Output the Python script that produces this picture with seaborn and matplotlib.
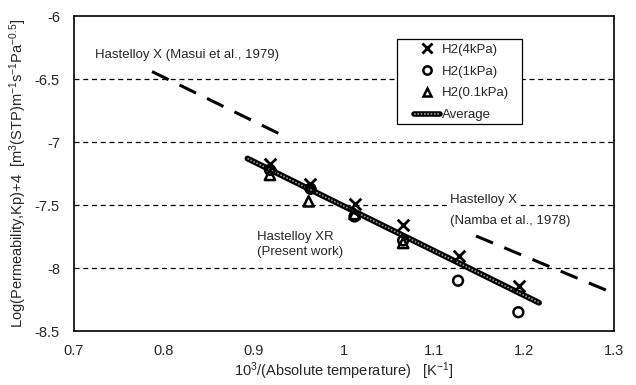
import matplotlib
matplotlib.use("Agg")
import matplotlib.pyplot as plt
import seaborn as sns
from matplotlib.lines import Line2D
from matplotlib.patches import Rectangle
from matplotlib.legend_handler import HandlerTuple

# Data
x_4kpa = [0.918, 0.963, 1.012, 1.066, 1.128, 1.195]
y_4kpa = [-7.17, -7.33, -7.49, -7.66, -7.905, -8.145]
x_1kpa = [0.918, 0.963, 1.012, 1.066, 1.127, 1.194]
y_1kpa = [-7.22, -7.37, -7.59, -7.78, -8.10, -8.35]
x_01kpa = [0.918, 0.961, 1.012, 1.066]
y_01kpa = [-7.26, -7.47, -7.57, -7.80]
avg_x = [0.893, 1.217]
avg_y = [-7.13, -8.275]
masui_x = [0.787, 0.936]
masui_y = [-6.44, -6.96]
namba_x = [1.147, 1.300]
namba_y = [-7.745, -8.20]
legend_labels = ["H2(4kPa)", "H2(1kPa)", "H2(0.1kPa)", "Average"]

sns.set_style("white")
plt.rcParams["font.family"] = ["Liberation Sans", "DejaVu Sans"]
plt.rcParams["mathtext.fontset"] = "custom"
plt.rcParams["mathtext.rm"] = "Liberation Sans"
plt.rcParams["mathtext.it"] = "Liberation Sans"

fig = plt.figure(figsize=(6.36, 3.85), dpi=100)
ax = fig.add_axes([0.116, 0.140, 0.849, 0.818])

for yv in [-6.5, -7, -7.5, -8]:
    ax.axhline(yv, color="black", lw=0.9, ls=(0, (4, 3)), zorder=1)

# literature lines
sns.lineplot(x=masui_x, y=masui_y, ax=ax, color="black", lw=2.2,
             linestyle=(0, (6, 4)), zorder=2)
sns.lineplot(x=namba_x, y=namba_y, ax=ax, color="black", lw=2.2,
             linestyle=(0, (6, 4)), zorder=2)

# average line: black with a grey core
sns.lineplot(x=avg_x, y=avg_y, ax=ax, color="black", lw=4.2, zorder=3)
sns.lineplot(x=avg_x, y=avg_y, ax=ax, color="#9a9a9a", lw=1.2,
             linestyle=(0, (1, 1)), zorder=4)

sns.scatterplot(x=x_4kpa, y=y_4kpa, ax=ax, marker="x", s=70, color="black",
                linewidth=2, zorder=5)
sns.scatterplot(x=x_1kpa, y=y_1kpa, ax=ax, marker="o", s=50,
                facecolors="none", edgecolor="black", linewidth=1.8, zorder=5)
sns.scatterplot(x=x_01kpa, y=y_01kpa, ax=ax, marker="^", s=55,
                facecolors="none", edgecolor="black", linewidth=1.8, zorder=5)

ax.set_xlim(0.7, 1.3)
ax.set_ylim(-8.5, -6)
ax.set_xticks([0.7, 0.8, 0.9, 1.0, 1.1, 1.2, 1.3])
ax.set_xticklabels(["0.7", "0.8", "0.9", "1", "1.1", "1.2", "1.3"])
ax.set_yticks([-8.5, -8, -7.5, -7, -6.5, -6])
ax.set_yticklabels(["-8.5", "-8", "-7.5", "-7", "-6.5", "-6"])
ax.tick_params(axis="x", direction="in", length=4, width=1, labelsize=10.5, pad=9)
ax.tick_params(axis="y", direction="in", length=3, width=1, labelsize=10.5, pad=10)
for sp in ax.spines.values():
    sp.set_color("black")
    sp.set_linewidth(1.2)

ax.set_xlabel(r"10$^{3}$/(Absolute temperature)   [K$^{-1}$]", fontsize=10.5, labelpad=2)
ax.set_ylabel(r"Log(Permeability,Kp)+4  [m$^{3}$(STP)m$^{-1}$s$^{-1}$Pa$^{-0.5}$]",
              fontsize=10.5, labelpad=4)

ax.text(0.7233, -6.31, "Hastelloy X (Masui et al., 1979)", fontsize=9.5, va="center")
ax.text(1.118, -7.46, "Hastelloy X", fontsize=9.5, va="center",
        bbox=dict(facecolor="white", edgecolor="none", pad=0.5), zorder=2)
ax.text(1.118, -7.625, "(Namba et al., 1978)", fontsize=9.5, va="center")
ax.text(0.904, -7.75, "Hastelloy XR", fontsize=9.5, va="center")
ax.text(0.904, -7.87, "(Present work)", fontsize=9.5, va="center")

# legend box drawn in axes coordinates
ax.add_patch(Rectangle((0.599, 0.659), 0.232, 0.270, transform=ax.transAxes,
                       facecolor="white", edgecolor="black", lw=0.9, zorder=6))
avg_handle = (Line2D([], [], color="black", lw=4),
              Line2D([], [], color="#9a9a9a", lw=1.2, ls=(0, (1, 1))))
handles = [
    Line2D([], [], marker="x", ls="none", color="black", mew=2, ms=7),
    Line2D([], [], marker="o", ls="none", mfc="none", mec="black", mew=1.8, ms=6),
    Line2D([], [], marker="^", ls="none", mfc="none", mec="black", mew=1.8, ms=6),
    avg_handle,
]
leg = ax.legend(handles, legend_labels, loc="upper left",
                bbox_to_anchor=(0.626, 0.921), fontsize=9.5, frameon=False,
                handlelength=1.9, handletextpad=0.15, borderpad=0.2,
                borderaxespad=0, labelspacing=0.72,
                handler_map={tuple: HandlerTuple(ndivide=1, pad=0)})
leg.set_zorder(7)

fig.savefig("out.png", dpi=100)
